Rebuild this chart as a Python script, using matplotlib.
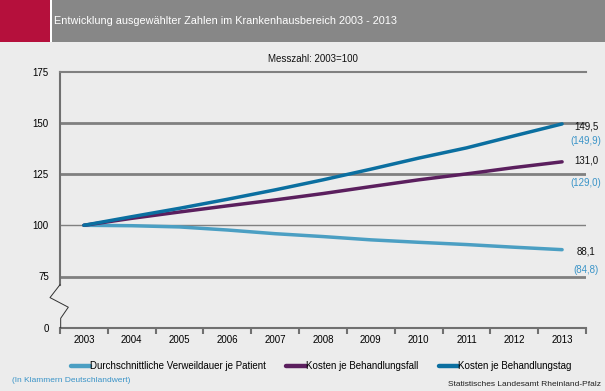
import matplotlib.pyplot as plt
import matplotlib.transforms as mtransforms
from matplotlib.patches import Rectangle
import numpy as np

plt.rcParams['font.family'] = ['Liberation Sans', 'DejaVu Sans']

years = ['2003', '2004', '2005', '2006', '2007', '2008', '2009', '2010', '2011', '2012', '2013']
verweildauer = [100, 99.8, 99.2, 97.7, 95.9, 94.5, 92.9, 91.7, 90.6, 89.3, 88.1]
kosten_fall = [100, 103.4, 106.5, 109.5, 112.4, 115.5, 118.9, 122.2, 125.1, 128.2, 131.0]
kosten_tag = [100, 104.2, 108.3, 112.7, 117.3, 122.2, 127.4, 132.8, 137.8, 143.7, 149.5]
series_names = ['Durchschnittliche Verweildauer je Patient', 'Kosten je Behandlungsfall',
                'Kosten je Behandlungstag']
end_labels = ['88,1', '131,0', '149,5']
de_labels = ['(84,8)', '(129,0)', '(149,9)']
ytick_vals = [75, 100, 125, 150, 175]

c_light = '#4b9fc3'
c_purple = '#5b1f5e'
c_blue = '#0b6fa0'
c_note = '#3a94c8'
bg = '#ececec'

fig = plt.figure(figsize=(6.05, 3.91), dpi=100, facecolor=bg)

# header band
fig.patches.append(Rectangle((0, 1 - 42 / 391), 1, 42 / 391, transform=fig.transFigure,
                             facecolor='#878787', edgecolor='none', zorder=0))
fig.patches.append(Rectangle((0, 1 - 42 / 391), 50 / 605, 42 / 391, transform=fig.transFigure,
                             facecolor='#b5103c', edgecolor='none', zorder=1))
fig.patches.append(Rectangle((50 / 605, 1 - 42 / 391), 2 / 605, 42 / 391, transform=fig.transFigure,
                             facecolor='white', edgecolor='none', zorder=1))
fig.text(54 / 605, 1 - 21 / 391, 'Entwicklung ausgewählter Zahlen im Krankenhausbereich 2003 - 2013',
         color='white', fontsize=7.8, va='center', ha='left')

ax = fig.add_axes([60 / 605, 1 - 327.7 / 391, 526 / 605, 256 / 391])
ax.set_facecolor(bg)
x = np.arange(len(years))

# y axis is broken: 0 is drawn at position 50
ax.set_ylim(50, 175)
ax.set_xlim(-0.5, len(years) - 0.5)

for v in ytick_vals[:-1]:
    lw = 1.0 if v == 100 else 2.0
    ax.axhline(v, color='#808080', lw=lw, zorder=1)

ax.plot(x, verweildauer, color=c_light, lw=2.5, solid_capstyle='round', zorder=3, label=series_names[0])
ax.plot(x, kosten_fall, color=c_purple, lw=2.5, solid_capstyle='round', zorder=3, label=series_names[1])
ax.plot(x, kosten_tag, color=c_blue, lw=2.5, solid_capstyle='round', zorder=4, label=series_names[2])

ax.set_yticks([50] + ytick_vals)
ax.set_yticklabels(['0'] + [str(v) for v in ytick_vals])
ax.tick_params(axis='y', length=0, pad=8, labelsize=7)

ax.set_xticks(np.arange(-0.5, len(years), 1.0))
ax.set_xticklabels([])
ax.set_xticks(x, minor=True)
ax.set_xticklabels(years, minor=True)
ax.tick_params(axis='x', which='major', length=4, width=1.5, color='#707070', direction='out')
ax.tick_params(axis='x', which='minor', length=0, pad=5, labelsize=7)

ax.spines['right'].set_visible(False)
ax.spines['top'].set_color('#808080')
ax.spines['top'].set_linewidth(1.5)
ax.spines['bottom'].set_color('#707070')
ax.spines['bottom'].set_linewidth(1.5)
ax.spines['left'].set_color('#707070')
ax.spines['left'].set_linewidth(1.5)
ax.spines['left'].set_bounds(71, 175)

# break marker
tr = mtransforms.blended_transform_factory(ax.transAxes, ax.transData)
ax.plot([0, -0.019, 0.0158, 0.0013, 0.0013], [71, 64.7, 60, 54.6, 50], color='#303030',
        lw=0.7, transform=tr, clip_on=False, zorder=5)

# end labels
label_pos = [87.1, 131.5, 148.3]
de_pos = [78.1, 120.6, 141.0]
for lab, de, p1, p2 in zip(end_labels, de_labels, label_pos, de_pos):
    ax.text(len(years) - 0.5, p1, lab, ha='center', va='center', fontsize=7, color='#111111', clip_on=False)
    ax.text(len(years) - 0.5, p2, de, ha='center', va='center', fontsize=7, color=c_note, clip_on=False)

fig.text(313 / 605, 1 - 58.7 / 391, 'Messzahl: 2003=100', ha='center', va='center', fontsize=7, color='#111111')

leg = fig.legend(loc='center', bbox_to_anchor=(321 / 605, 1 - 366 / 391), ncol=3, frameon=False,
                 fontsize=7, handlelength=2.0, handletextpad=0.0, columnspacing=2.1)
for line in leg.get_lines():
    line.set_linewidth(3.2)

fig.text(12 / 605, 1 - 380 / 391, '(In Klammern Deutschlandwert)', ha='left', va='center',
         fontsize=6, color=c_note)
fig.text(601 / 605, 1 - 384 / 391, 'Statistisches Landesamt Rheinland-Pfalz', ha='right', va='center',
         fontsize=6, color='#222222')

fig.savefig('out.png', dpi=100, facecolor=bg)
